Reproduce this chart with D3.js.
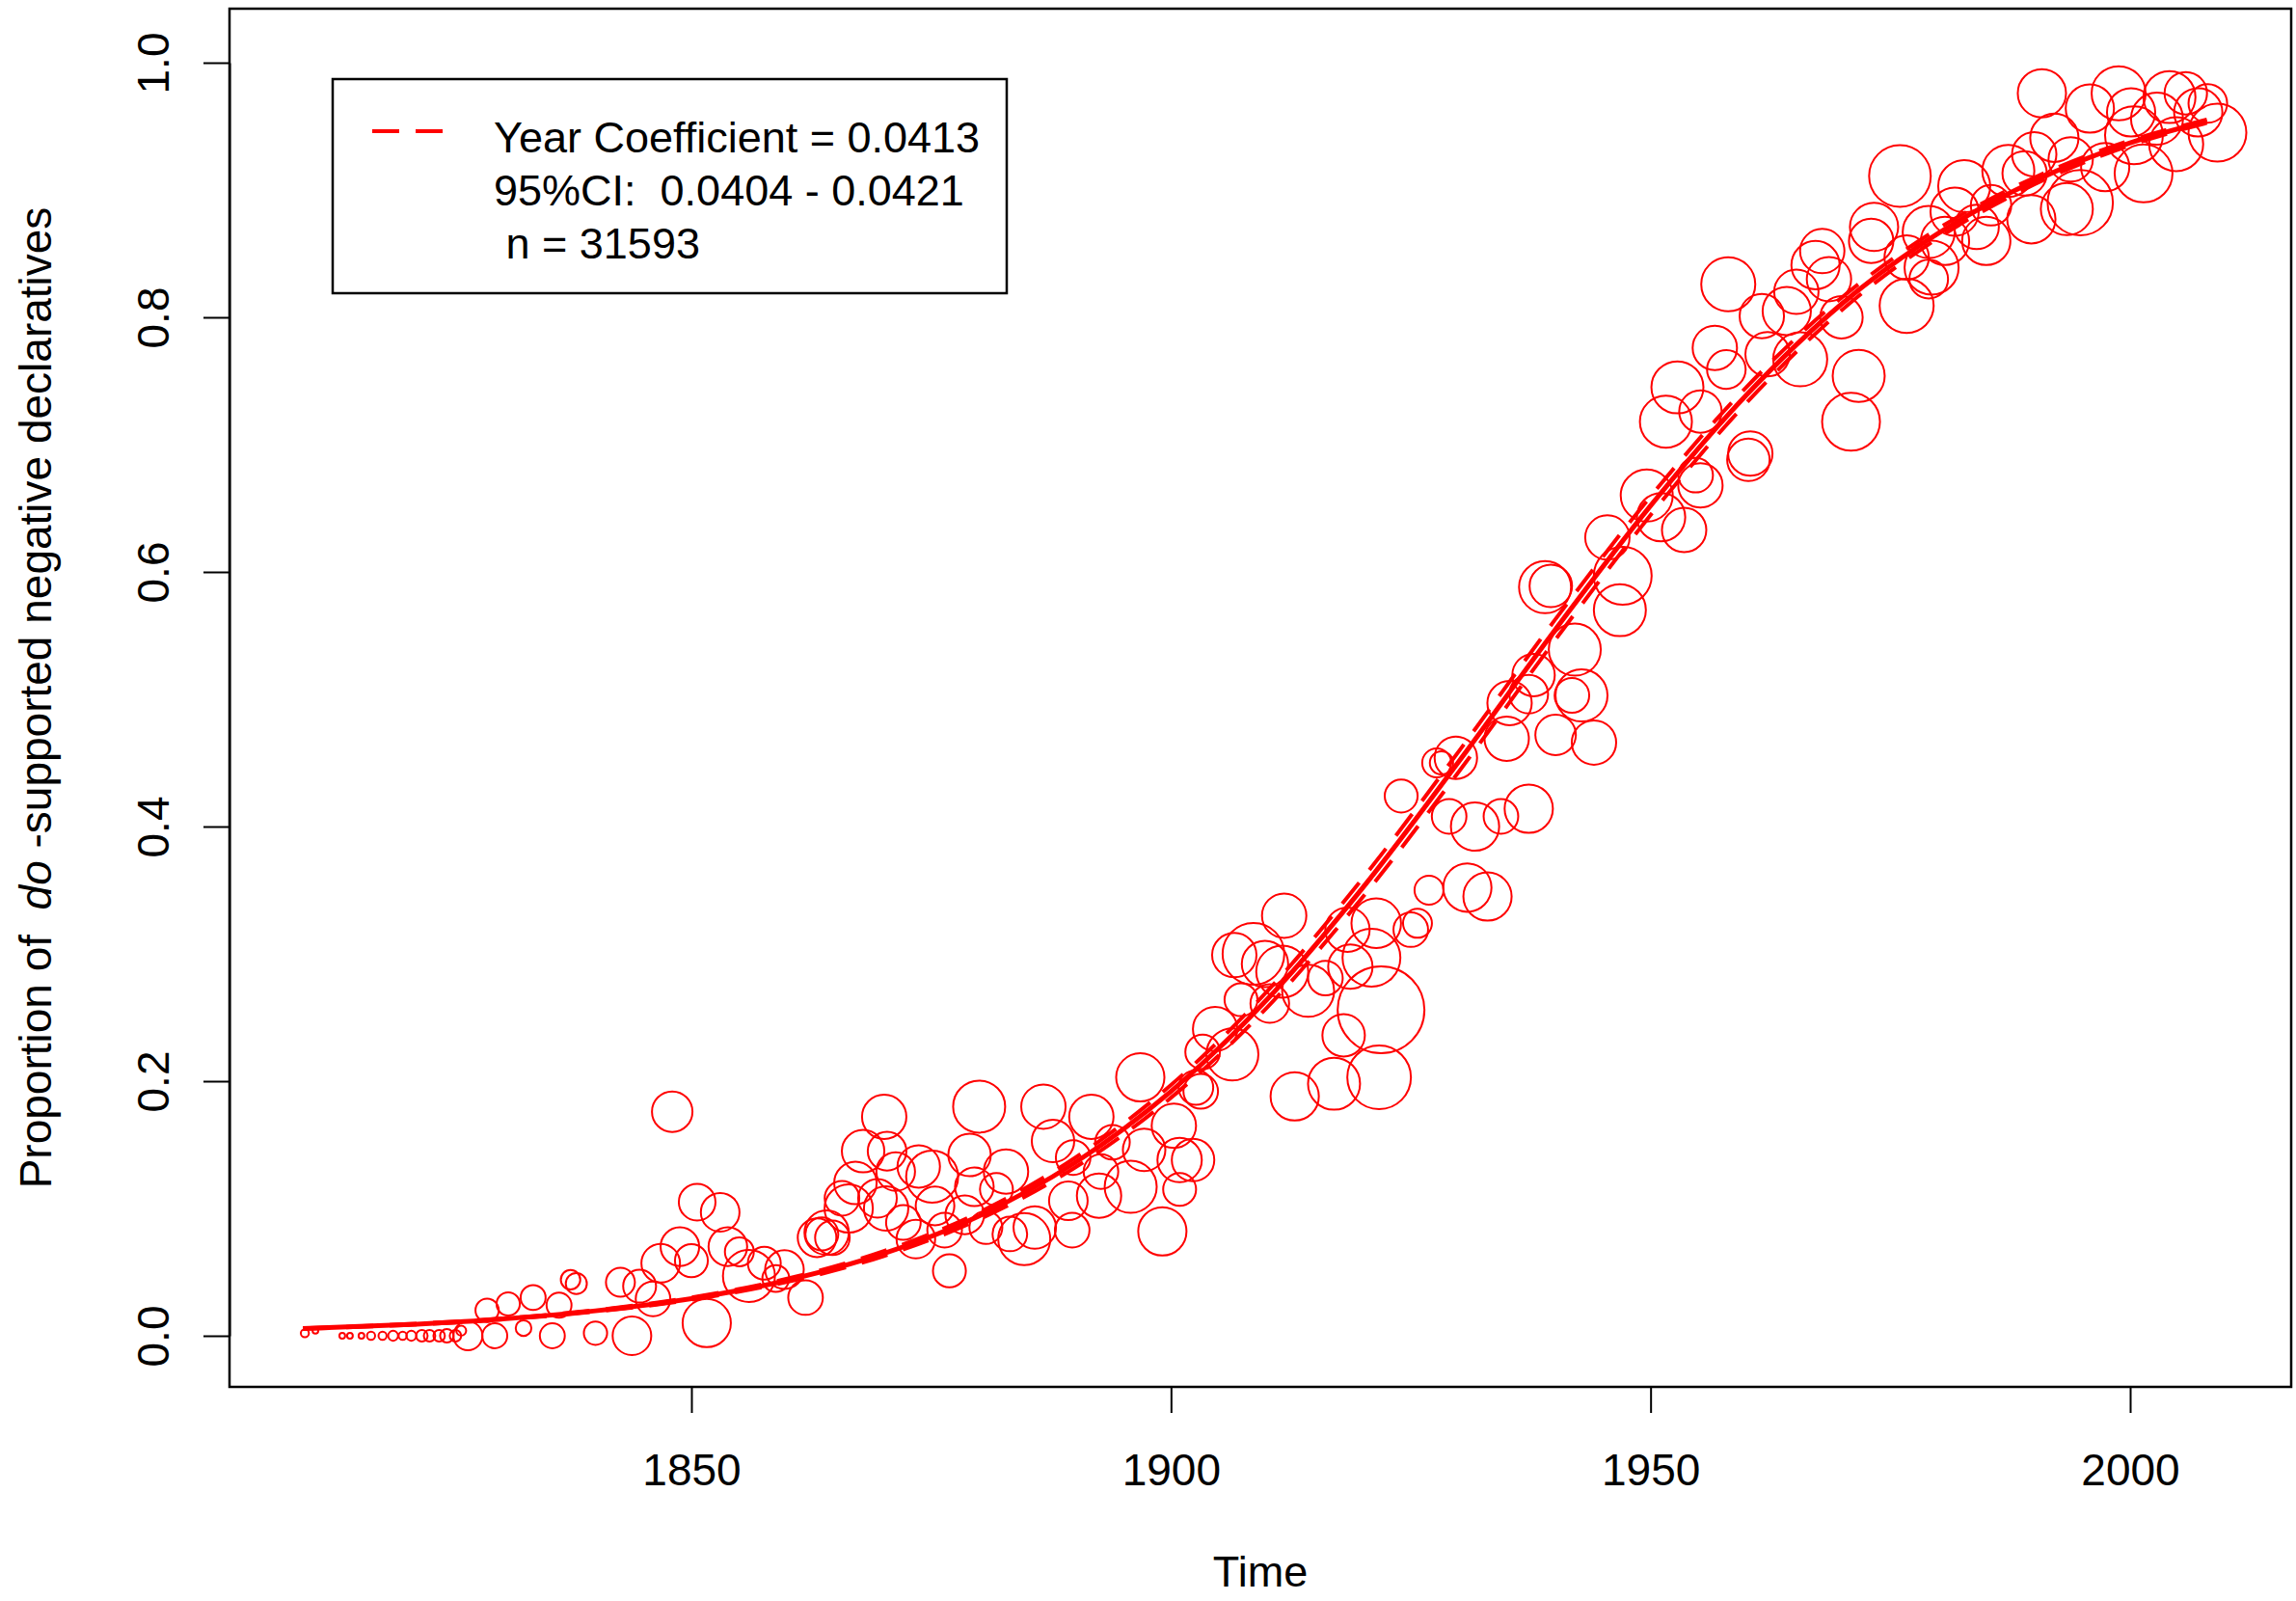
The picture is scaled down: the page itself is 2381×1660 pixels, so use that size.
<!DOCTYPE html>
<html>
<head>
    <script src="https://d3js.org/d3.v7.min.js"></script>
    <style>
        body { margin: 0; background: #fff; }
        text { font-family: "Liberation Sans", Arial, sans-serif; }
    </style>
</head>
<body>
    <div id="chart"></div>

    <script>
        // one circle per year: year, proportion of do-support, tokens in that year
        const years = [
            1809.7, 1810.8, 1813.6, 1814.4, 1815.6, 1816.6, 1817.8, 1818.9, 1819.9, 1820.8,
            1821.9, 1822.7, 1823.7, 1824.5, 1825.4, 1826.0, 1826.7, 1828.7, 1829.5, 1830.9,
            1832.5, 1833.5, 1835.5, 1836.2, 1837.4, 1838.0, 1840.0, 1842.6, 1843.8, 1844.6,
            1846.0, 1846.8, 1848.0, 1848.8, 1850.0, 1850.6, 1851.6, 1853.0, 1853.8, 1855.0,
            1856.0, 1857.6, 1858.8, 1859.7, 1861.9,
            1863.1, 1863.6, 1864.1, 1864.7, 1865.7, 1866.4, 1867.1, 1867.9, 1869.4, 1870.1,
            1870.3, 1870.4, 1871.3, 1872.1, 1873.4, 1873.7, 1875.1, 1875.4, 1876.4, 1876.9,
            1878.5, 1879.0, 1879.5, 1880.0, 1880.7, 1881.8, 1882.8, 1883.2, 1884.7, 1885.8,
            1886.7, 1887.7, 1889.3, 1889.7, 1889.8, 1891.7, 1892.5, 1892.7, 1893.9, 1895.8,
            1896.8, 1897.2, 1899.1, 1900.3, 1900.9, 1900.9, 1902.3, 1902.6, 1903.1, 1903.3,
            1904.6, 1906.4, 1906.6, 1907.3, 1908.6, 1909.8, 1910.3, 1911.6, 1911.8, 1912.9,
            1914.3, 1916.1, 1917.0, 1918.0, 1918.4, 1918.7, 1920.9, 1921.4, 1921.7, 1921.9,
            1924.0, 1925.0, 1925.7, 1926.9, 1927.7, 1928.2, 1929.0, 1929.7, 1930.9, 1931.7,
            1933.0, 1934.4, 1935.0, 1935.3, 1937.3, 1937.3, 1937.8, 1939.0, 1939.6, 1940.1,
            1941.8, 1942.1, 1942.8, 1944.1, 1945.5, 1946.8, 1947.1, 1949.6, 1951.1, 1951.6,
            1952.8, 1953.5, 1954.7, 1955.2, 1955.2, 1956.7, 1957.9, 1958.1, 1960.2, 1960.4,
            1961.6, 1962.2, 1964.2, 1965.2, 1965.6, 1967.2, 1967.9, 1968.6, 1969.9, 1970.9,
            1971.7, 1973.0, 1973.3, 1976.0, 1976.7, 1976.7, 1979.0, 1979.0, 1979.3, 1980.7,
            1981.7, 1982.7, 1984.0, 1985.0, 1985.5, 1987.3, 1989.0, 1989.7, 1990.0, 1990.8,
            1992.1, 1993.4, 1993.8, 1994.8, 1995.8, 1997.4, 1998.8, 2000.1, 2000.4, 2001.4,
            2002.8, 2004.1, 2004.8, 2005.8, 2007.1, 2008.1, 2009.1
        ];
        const props = [
            0.002, 0.004, 0, 0, 0, 0, 0, 0, 0, 0,
            0, 0, 0, 0, 0, 0.004, 0, 0.020, 0, 0.025,
            0.006, 0.030, 0, 0.024, 0.044, 0.041, 0.002, 0.042, 0, 0.039,
            0.029, 0.057, 0.176, 0.070, 0.059, 0.105, 0.010, 0.097, 0.070, 0.066,
            0.047, 0.057, 0.045, 0.052, 0.030,
            0.077, 0.080, 0.081, 0.077, 0.108, 0.100, 0.120, 0.145, 0.108, 0.172,
            0.100, 0.145, 0.129, 0.089, 0.076, 0.133, 0.125, 0.102, 0.083, 0.051,
            0.095, 0.142, 0.117, 0.180, 0.085, 0.115, 0.129, 0.080, 0.076, 0.085,
            0.180, 0.153, 0.106, 0.083, 0.140, 0.172, 0.110, 0.129, 0.152, 0.117,
            0.203, 0.146, 0.082, 0.165, 0.138, 0.115, 0.138, 0.195, 0.192, 0.223,
            0.241, 0.221, 0.299, 0.264, 0.300, 0.292, 0.261, 0.286, 0.330, 0.188,
            0.271, 0.281, 0.198, 0.236, 0.319, 0.290, 0.297, 0.324, 0.203, 0.256,
            0.424, 0.319, 0.324, 0.350, 0.450, 0.450, 0.408, 0.454, 0.352, 0.400,
            0.345, 0.408, 0.469, 0.497, 0.414, 0.504, 0.519, 0.588, 0.589, 0.472,
            0.503, 0.539, 0.503, 0.466, 0.627, 0.570, 0.597, 0.660, 0.643, 0.718,
            0.745, 0.633, 0.676, 0.668, 0.726, 0.776, 0.759, 0.826, 0.688, 0.693,
            0.801, 0.771, 0.805, 0.820, 0.767, 0.841, 0.852, 0.830, 0.800, 0.718,
            0.754, 0.860, 0.871, 0.911, 0.809, 0.847, 0.867, 0.830, 0.839, 0.860,
            0.883, 0.903, 0.871, 0.860, 0.888, 0.915, 0.913, 0.877, 0.928, 0.976,
            0.941, 0.885, 0.924, 0.890, 0.964, 0.918, 0.976, 0.961, 0.943, 0.913,
            0.956, 0.973, 0.936, 0.976, 0.961, 0.968, 0.945
        ];
        const tokens = [
            4, 2, 2, 2, 2, 4, 4, 6, 4, 6,
            8, 8, 8, 11, 8, 6, 51, 33, 38, 33,
            15, 38, 38, 38, 23, 27, 33, 51, 91, 66,
            73, 91, 100, 91, 66, 82, 142, 91, 91, 51,
            165, 66, 44, 91, 73,
            91, 66, 120, 73, 73, 142, 110, 110, 91, 120,
            120, 91, 91, 73, 91, 110, 165, 91, 73, 66,
            91, 110, 91, 165, 66, 66, 120, 73, 165, 110,
            120, 110, 91, 73, 73, 120, 120, 73, 73, 165,
            142, 110, 142, 120, 120, 66, 110, 73, 73, 73,
            120, 165, 120, 66, 232, 131, 91, 165, 120, 142,
            165, 73, 165, 110, 120, 120, 204, 150, 247, 459,
            66, 73, 51, 51, 51, 33, 73, 110, 142, 142,
            142, 73, 120, 120, 142, 91, 110, 165, 110, 100,
            73, 165, 165, 120, 120, 165, 204, 165, 142, 165,
            165, 120, 73, 120, 110, 120, 91, 178, 110, 120,
            120, 120, 142, 120, 178, 142, 120, 120, 110, 204,
            165, 120, 142, 232, 178, 120, 165, 91, 178, 142,
            142, 165, 120, 142, 100, 165, 120, 142, 120, 142,
            142, 165, 120, 260, 142, 142, 178, 142, 204, 204,
            165, 165, 178, 110, 142, 91, 204
        ];

        // fitted logistic curve and its two bounds, read at each decade
        const fitYears = [1809.5, 1820, 1830, 1840, 1850, 1860, 1870, 1880, 1890, 1900,
            1910, 1920, 1930, 1940, 1950, 1960, 1970, 1980, 1990, 2000, 2008];
        const fitMid = [0.0056, 0.0087, 0.0130, 0.0196, 0.0292, 0.0436, 0.0644, 0.0942, 0.136, 0.192,
            0.264, 0.352, 0.451, 0.554, 0.652, 0.739, 0.811, 0.866, 0.907, 0.937, 0.954];
        const fitUpper = [0.0058, 0.0090, 0.0134, 0.0202, 0.0301, 0.0449, 0.0663, 0.0969, 0.1398, 0.1970,
            0.2703, 0.3594, 0.4590, 0.5620, 0.6593, 0.7452, 0.8159, 0.8697, 0.9097, 0.9389, 0.9553];
        const fitLower = [0.0054, 0.0084, 0.0126, 0.0190, 0.0283, 0.0423, 0.0625, 0.0915, 0.1322, 0.1870,
            0.2577, 0.3447, 0.4430, 0.5460, 0.6447, 0.7328, 0.8061, 0.8623, 0.9043, 0.9351, 0.9527];

        const xTicks = [1850, 1900, 1950, 2000];
        const yTicks = [0, 0.2, 0.4, 0.6, 0.8, 1.0];
        const legendLines = ["Year Coefficient = 0.0413", "95%CI:  0.0404 - 0.0421", " n = 31593"];

        const width = 2381, height = 1660;
        const box = { left: 238, right: 2376, top: 9, bottom: 1438 };

        const svg = d3.select("#chart")
            .append("svg")
            .attr("width", width)
            .attr("height", height);

        svg.append("rect")
            .attr("width", width).attr("height", height)
            .attr("fill", "#fff");

        const x = d3.scaleLinear()
            .domain([1850, 2000])
            .range([717, 2209]);
        const y = d3.scaleLinear()
            .domain([0, 1])
            .range([1385, 65]);
        const r = d3.scaleSqrt()
            .domain([0, 100])
            .range([0, 21]);

        const points = years.map(function (d, i) {
            return { year: d, p: props[i], n: tokens[i] };
        });

        // data circles
        svg.append("g")
            .selectAll("circle")
            .data(points)
            .join("circle")
            .attr("cx", d => x(d.year))
            .attr("cy", d => y(d.p))
            .attr("r", d => r(d.n))
            .attr("fill", "none")
            .attr("stroke", "#ff0000")
            .attr("stroke-width", 2);

        // fitted lines
        const line = d3.line()
            .x((d, i) => x(fitYears[i]))
            .y(d => y(d))
            .curve(d3.curveMonotoneX);

        svg.append("path")
            .attr("d", line(fitMid))
            .attr("fill", "none")
            .attr("stroke", "#ff0000")
            .attr("stroke-width", 5);

        [fitUpper, fitLower].forEach(function (vals) {
            svg.append("path")
                .attr("d", line(vals))
                .attr("fill", "none")
                .attr("stroke", "#ff0000")
                .attr("stroke-width", 4)
                .attr("stroke-dasharray", "28,17");
        });

        // box
        svg.append("rect")
            .attr("x", box.left).attr("y", box.top)
            .attr("width", box.right - box.left)
            .attr("height", box.bottom - box.top)
            .attr("fill", "none")
            .attr("stroke", "#000")
            .attr("stroke-width", 2.5);

        // x axis
        const xAxis = svg.append("g")
            .attr("transform", "translate(0," + box.bottom + ")")
            .call(d3.axisBottom(x).tickValues(xTicks).tickSize(27).tickSizeOuter(0).tickFormat(d3.format("d")));
        xAxis.select(".domain").remove();
        xAxis.selectAll(".tick line").attr("stroke", "#000").attr("stroke-width", 2);
        xAxis.selectAll(".tick text")
            .attr("y", 102)
            .attr("dy", 0)
            .attr("fill", "#000")
            .attr("font-size", 46)
            .attr("font-family", "Liberation Sans, Arial, sans-serif");

        // y axis, labels turned like R does
        const yAxis = svg.append("g")
            .attr("transform", "translate(" + box.left + ",0)")
            .call(d3.axisLeft(y).tickValues(yTicks).tickSize(27).tickSizeOuter(0).tickFormat(d3.format(".1f")));
        yAxis.select(".domain").attr("stroke", "#000").attr("stroke-width", 2);
        yAxis.selectAll(".tick line").attr("stroke", "#000").attr("stroke-width", 2);
        yAxis.selectAll(".tick text")
            .attr("transform", "rotate(-90)")
            .attr("x", 0)
            .attr("y", -63)
            .attr("dy", 0)
            .attr("text-anchor", "middle")
            .attr("fill", "#000")
            .attr("font-size", 46)
            .attr("font-family", "Liberation Sans, Arial, sans-serif");

        // axis titles
        svg.append("text")
            .attr("x", (box.left + box.right) / 2)
            .attr("y", 1645)
            .attr("text-anchor", "middle")
            .attr("font-size", 45)
            .text("Time");

        const yTitle = svg.append("text")
            .attr("transform", "translate(53," + (box.top + box.bottom) / 2 + ") rotate(-90)")
            .attr("text-anchor", "middle")
            .attr("font-size", 46)
            .style("white-space", "pre");
        yTitle.append("tspan").text("Proportion of  ");
        yTitle.append("tspan").attr("font-style", "italic").text("do");
        yTitle.append("tspan").text(" -supported negative declaratives");

        // legend
        const legend = svg.append("g");
        legend.append("rect")
            .attr("x", 345).attr("y", 82)
            .attr("width", 699).attr("height", 222)
            .attr("fill", "#fff")
            .attr("stroke", "#000")
            .attr("stroke-width", 2.5);
        legend.append("line")
            .attr("x1", 386).attr("x2", 460)
            .attr("y1", 136).attr("y2", 136)
            .attr("stroke", "#ff0000")
            .attr("stroke-width", 4)
            .attr("stroke-dasharray", "28,17");
        legend.selectAll("text.lab")
            .data(legendLines)
            .join("text")
            .attr("class", "lab")
            .attr("x", 512)
            .attr("y", (d, i) => 158 + i * 55)
            .attr("font-size", 45)
            .style("white-space", "pre")
            .text(d => d);
    </script>
</body>
</html>
